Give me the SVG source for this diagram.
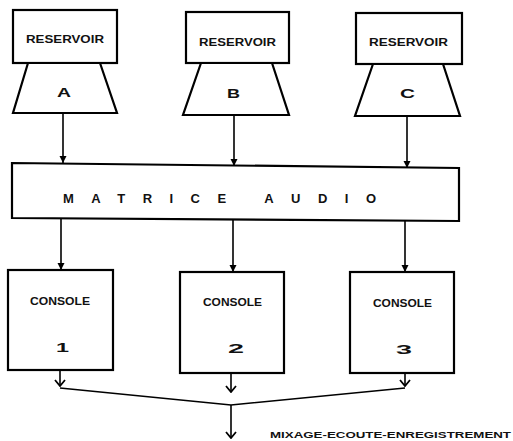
<svg xmlns="http://www.w3.org/2000/svg" width="513" height="441" viewBox="0 0 513 441">
<style>
.box{fill:#fff;stroke:#000;stroke-width:2.2}
.ln{fill:none;stroke:#000;stroke-width:1.6}
.t{font-family:"Liberation Sans",Arial,sans-serif;font-weight:bold;fill:#111}
</style>
<defs>
<marker id="fa" markerUnits="userSpaceOnUse" markerWidth="10" markerHeight="10" viewBox="0 0 10 10" refX="9" refY="5" orient="auto">
<path d="M2,1.5 L9,5 L2,8.5 Z" fill="#000"/>
</marker>
<marker id="oa" markerUnits="userSpaceOnUse" markerWidth="12" markerHeight="12" viewBox="0 0 12 12" refX="11" refY="6" orient="auto">
<path d="M5,1 L11,6 L5,11" fill="none" stroke="#000" stroke-width="1.8"/>
</marker>
</defs>
<rect width="513" height="441" fill="#fff"/>
<g id="reservoir-a">
<rect class="box" x="13" y="10" width="104" height="53"/>
<polygon class="box" points="28,63 100,63 117,113 13,113"/>
<text class="t" x="26" y="43" font-size="10" textLength="78" lengthAdjust="spacingAndGlyphs">RESERVOIR</text>
<text class="t" x="57" y="97" font-size="12" textLength="14" lengthAdjust="spacingAndGlyphs">A</text>
</g>
<g id="reservoir-b">
<rect class="box" x="186" y="12" width="103" height="51"/>
<polygon class="box" points="201,63 272,63 289,115 183,115"/>
<text class="t" x="199" y="46" font-size="10" textLength="77" lengthAdjust="spacingAndGlyphs">RESERVOIR</text>
<text class="t" x="227" y="98" font-size="12" textLength="13" lengthAdjust="spacingAndGlyphs">B</text>
</g>
<g id="reservoir-c">
<rect class="box" x="356" y="13" width="106" height="51"/>
<polygon class="box" points="373,64 443,64 460,116 355,116"/>
<text class="t" x="369" y="46" font-size="10" textLength="79" lengthAdjust="spacingAndGlyphs">RESERVOIR</text>
<text class="t" x="400" y="98" font-size="12" textLength="15" lengthAdjust="spacingAndGlyphs">C</text>
</g>
<g id="matrice-audio">
<polygon class="box" points="12,163 459,168 459,221 12,218"/>
<text class="t" x="63" y="203" font-size="13" textLength="313" lengthAdjust="spacing">MATRICE AUDIO</text>
</g>
<g id="console-1">
<rect class="box" x="8" y="270" width="105" height="100"/>
<text class="t" x="30" y="305" font-size="10" textLength="60" lengthAdjust="spacingAndGlyphs">CONSOLE</text>
<text class="t" x="56" y="352" font-size="13" textLength="13" lengthAdjust="spacingAndGlyphs">1</text>
</g>
<g id="console-2">
<rect class="box" x="180" y="272" width="104" height="101"/>
<text class="t" x="203" y="306" font-size="10" textLength="59" lengthAdjust="spacingAndGlyphs">CONSOLE</text>
<text class="t" x="228" y="353" font-size="13" textLength="16" lengthAdjust="spacingAndGlyphs">2</text>
</g>
<g id="console-3">
<rect class="box" x="350" y="272" width="104" height="101"/>
<text class="t" x="396" y="354" font-size="13" textLength="16" lengthAdjust="spacingAndGlyphs">3</text>
<text class="t" x="373" y="307" font-size="10" textLength="59" lengthAdjust="spacingAndGlyphs">CONSOLE</text>
</g>
<g id="connectors">
<line class="ln" x1="63" y1="113" x2="63" y2="163" marker-end="url(#fa)"/>
<line class="ln" x1="234" y1="115" x2="234" y2="166" marker-end="url(#fa)"/>
<line class="ln" x1="407" y1="116" x2="407" y2="168" marker-end="url(#fa)"/>
<line class="ln" x1="61" y1="218" x2="61" y2="270" marker-end="url(#fa)"/>
<line class="ln" x1="233" y1="220" x2="233" y2="272" marker-end="url(#fa)"/>
<line class="ln" x1="405" y1="221" x2="405" y2="272" marker-end="url(#fa)"/>
<line class="ln" x1="60" y1="370" x2="60" y2="386" marker-end="url(#oa)"/>
<line class="ln" x1="405" y1="373" x2="405" y2="386" marker-end="url(#oa)"/>
<line class="ln" x1="231" y1="373" x2="231" y2="392" marker-end="url(#oa)"/>
<polyline class="ln" points="60,388 231,405 405,388"/>
<line class="ln" x1="231" y1="405" x2="231" y2="438" marker-end="url(#oa)"/>
</g>
<text class="t" x="270" y="438" font-size="9.5" textLength="241" lengthAdjust="spacingAndGlyphs">MIXAGE-ECOUTE-ENREGISTREMENT</text>
</svg>
